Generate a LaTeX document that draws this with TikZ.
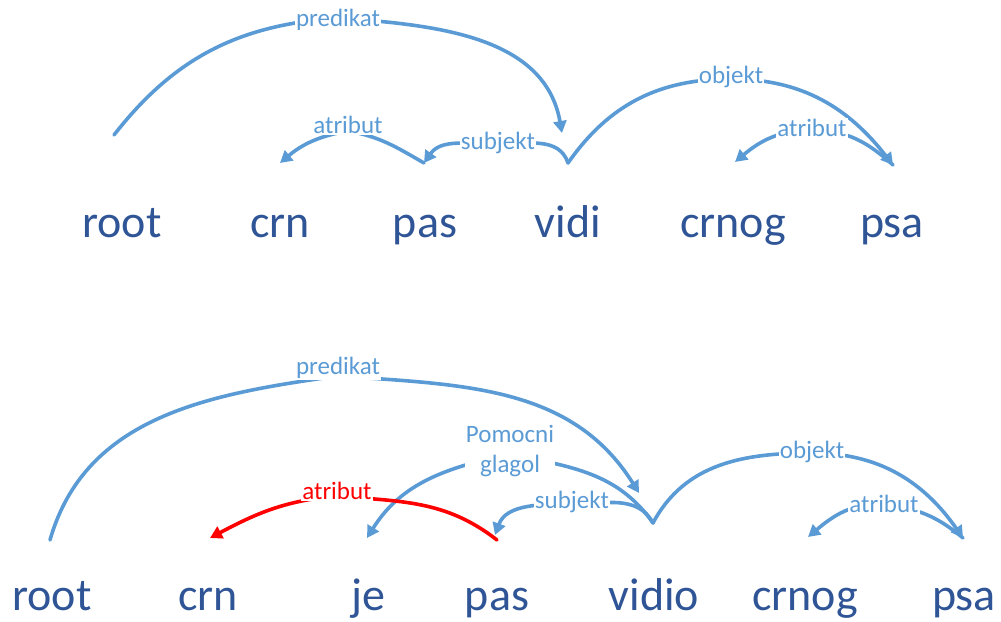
\documentclass[tikz,border=0pt]{standalone}
\usepackage{fontspec}
\setmainfont{Carlito}
\usetikzlibrary{arrows.meta}
\definecolor{arcblue}{HTML}{5B9BD5}
\definecolor{wordblue}{HTML}{2F5597}
\definecolor{arcred}{HTML}{FF0000}
\tikzset{
  word/.style={anchor=base, text=wordblue, inner sep=0pt, font=\fontsize{46}{50}\selectfont},
  lbl/.style={text=arcblue, fill=white, inner sep=1pt, font=\fontsize{25}{30}\selectfont},
  redlbl/.style={lbl, text=arcred},
  arc/.style={draw=arcblue, line width=3.6pt, line cap=round},
  redarc/.style={arc, draw=arcred},
  tip/.style={-{Triangle[length=12pt,width=13pt]}},
}
\begin{document}
\begin{tikzpicture}[x=1pt,y=1pt]
\useasboundingbox (0,0) rectangle (1001,-621);
% ---------- top sentence ----------
\node[word] (w1root)  at (122,-237) {root};
\node[word] (w1crn)   at (280,-237) {crn};
\node[word] (w1pas)   at (425,-237) {pas};
\node[word] (w1vidi)  at (568,-237) {vidi};
\node[word] (w1crnog) at (733,-237) {crnog};
\node[word] (w1psa)   at (892,-237) {psa};
\coordinate (a1root)  at (114,-135);
\coordinate (a1crn)   at (280,-163);
\coordinate (a1pas)   at (424,-163);
\coordinate (a1vidi)  at (568,-163);
\coordinate (a1vidiin) at (562,-133);
\coordinate (a1crnog) at (735,-162);
\coordinate (a1psa)   at (893,-165);
% predikat
\draw[arc,tip] (a1root) to[out=52,in=184] (338,-18) node[lbl,yshift=-2pt] (l1pred) {predikat}
   to[out=-4,in=100] (a1vidiin);
% atribut crn <- pas
\draw[arc,tip] (a1pas) to[out=150,in=-10] (348,-131) node[lbl,yshift=6pt] (l1atr) {atribut}
   to[out=190,in=40] (a1crn);
% subjekt
\draw[arc,tip] (a1vidi) to[out=108,in=0] (498,-144) node[lbl,yshift=1pt] (l1subj) {subjekt}
   to[out=180,in=55] (a1pas);
% objekt
\draw[arc,tip] (a1vidi) to[out=55,in=180] (731,-79) node[lbl,yshift=2pt] (l1obj) {objekt}
   to[out=0,in=128] (a1psa);
% atribut crnog <- psa
\draw[arc,tip] (a1psa) to[out=138,in=0] (812,-130) node[lbl,yshift=2pt] (l1atr2) {atribut}
   to[out=180,in=40] (a1crnog);
% ---------- bottom sentence ----------
\node[word] (w2root)  at (52,-610)  {root};
\node[word] (w2crn)   at (208,-610) {crn};
\node[word] (w2je)    at (368,-610) {je};
\node[word] (w2pas)   at (497,-610) {pas};
\node[word] (w2vidio) at (654,-610) {vidio};
\node[word] (w2crnog) at (805,-610) {crnog};
\node[word] (w2psa)   at (964,-610) {psa};
\coordinate (a2root)  at (50,-540);
\coordinate (a2crn)   at (210,-538);
\coordinate (a2je)    at (367,-538);
\coordinate (a2pasin) at (495,-535);
\coordinate (a2pas)   at (497,-540);
\coordinate (a2vidio) at (653,-523);
\coordinate (a2vidioin) at (639,-493);
\coordinate (a2crnog) at (808,-537);
\coordinate (a2psa)   at (963,-538);
% predikat
\draw[arc,tip] (a2root) to[out=74,in=188] (338,-376) node[lbl,yshift=8pt] (l2pred) {predikat}
   to[out=-4,in=122] (a2vidioin);
% Pomocni glagol
\draw[arc,tip] (a2vidio) to[out=125,in=-12] (510,-454) node[lbl,align=center,yshift=3pt] (l2pom) {Pomocni\\glagol}
   to[out=192,in=58] (a2je);
% subjekt
\draw[arc,tip] (a2vidio) to[out=118,in=0] (572,-504) node[lbl,yshift=2pt] (l2subj) {subjekt}
   to[out=180,in=70] (a2pasin);
% objekt
\draw[arc,tip] (a2vidio) to[out=62,in=180] (812,-453) node[lbl,yshift=1pt] (l2obj) {objekt}
   to[out=0,in=125] (a2psa);
% atribut crnog <- psa
\draw[arc,tip] (a2psa) to[out=140,in=-5] (884,-505) node[lbl,yshift=1pt] (l2atr2) {atribut}
   to[out=175,in=40] (a2crnog);
% red atribut crn <- pas
\draw[redarc,tip] (a2pas) to[out=142,in=-5] (337,-496) node[redlbl,yshift=5pt] (l2atr) {atribut}
   to[out=185,in=28] (a2crn);
\end{tikzpicture}
\end{document}
